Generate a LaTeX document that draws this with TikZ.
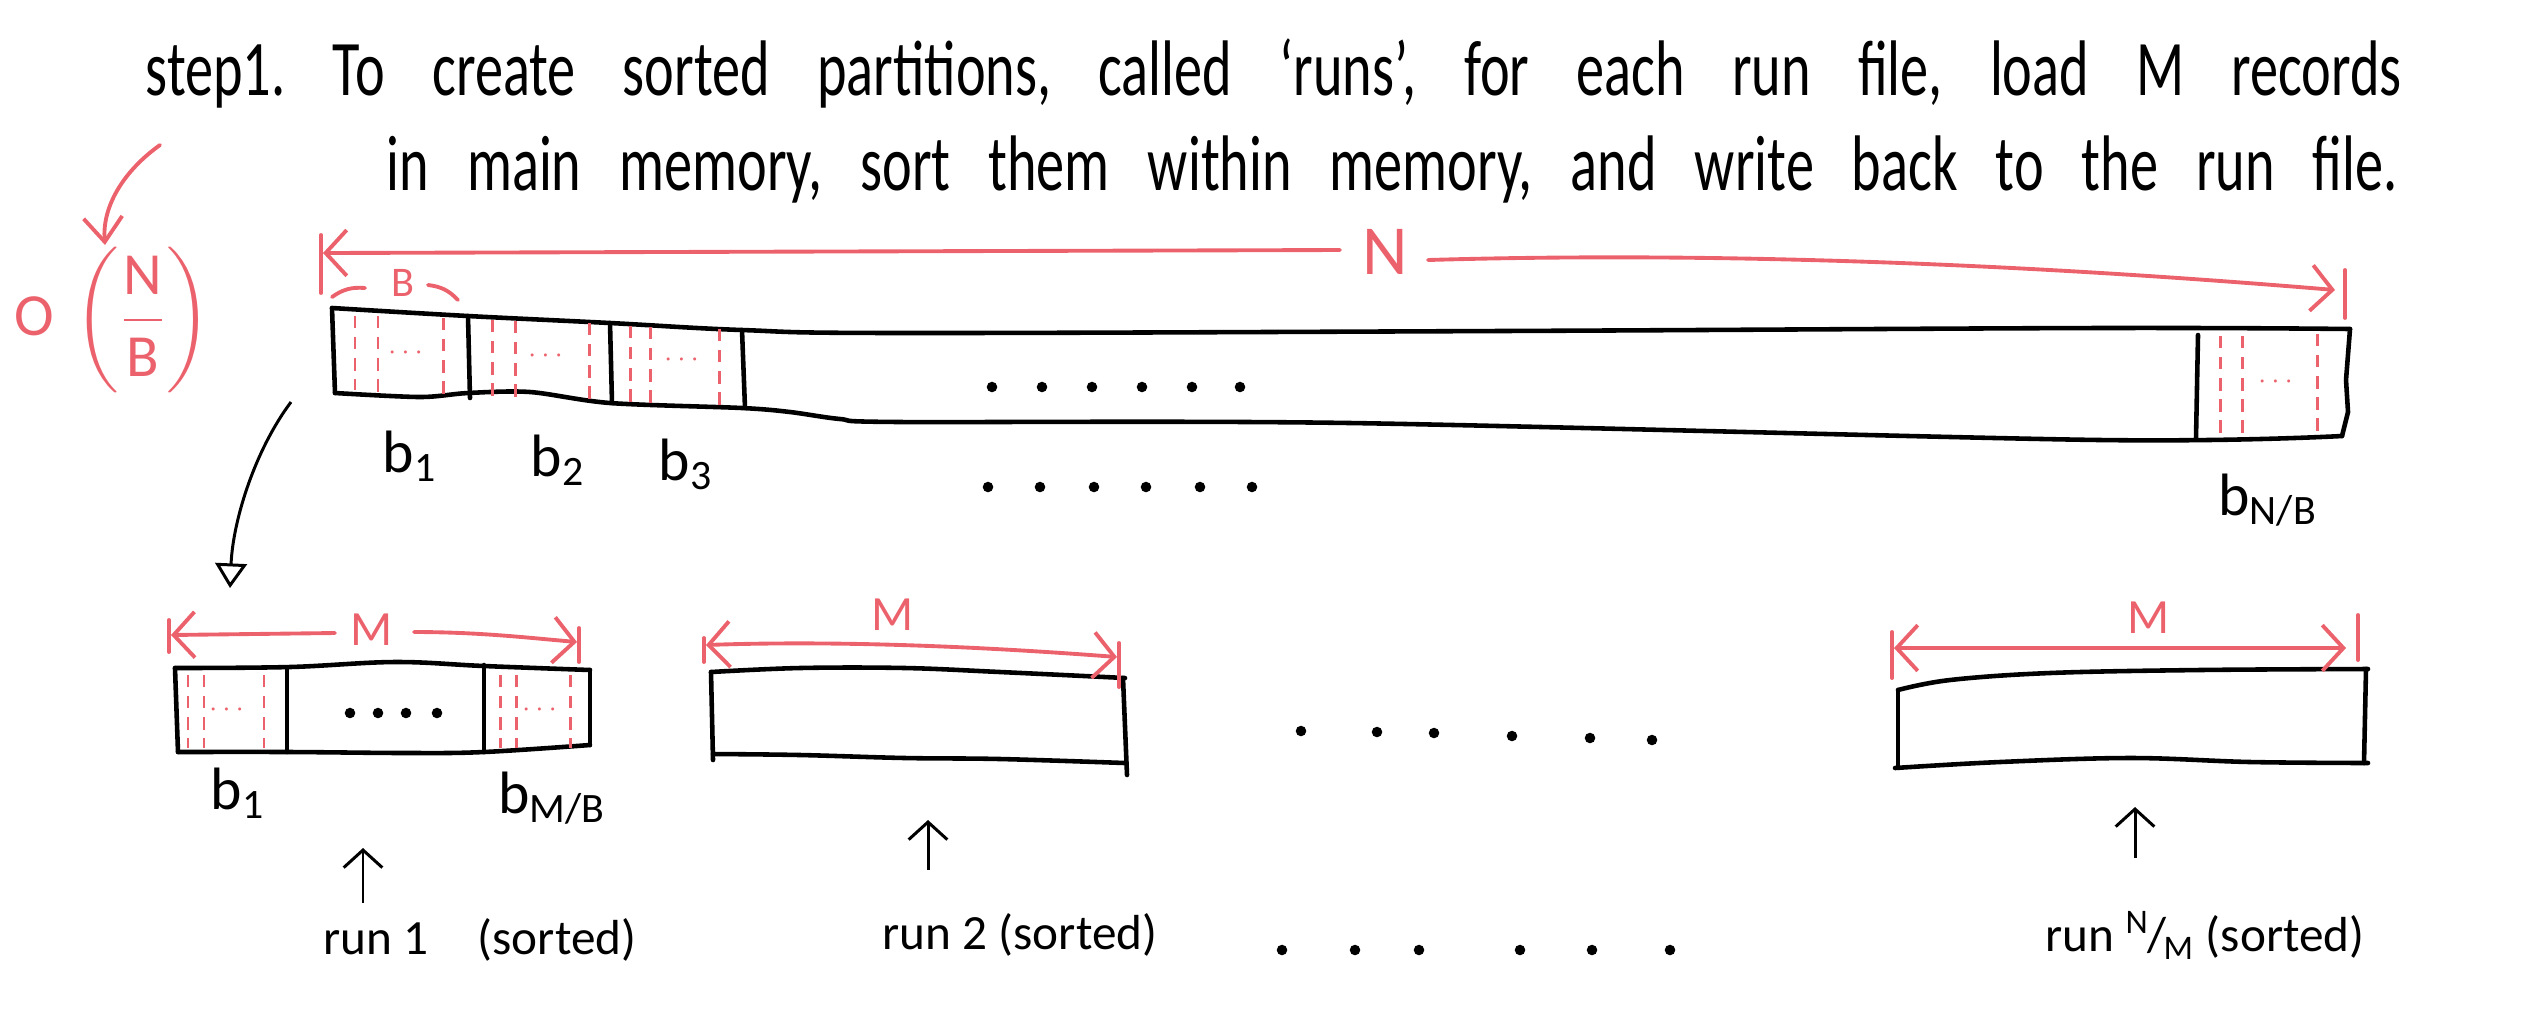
\documentclass[tikz,border=0pt]{standalone}
\usepackage{amsmath}
\usepackage{fontspec}
\setmainfont{Carlito}
\usetikzlibrary{arrows.meta}

\definecolor{penred}{RGB}{236,98,108}

\tikzset{
  barb/.tip={Straight Barb[length=6pt,width=13pt]},
  boxline/.style={line width=1.3pt, line cap=round, line join=round},
  redline/.style={penred, line width=1.1pt, line cap=round},
  reddash/.style={penred, line width=0.85pt, dash pattern=on 3.5pt off 2.5pt},
  pointer/.style={line width=0.85pt, -{Straight Barb[length=5pt,width=11pt]}},
  words/.style={anchor=base west, inner sep=0pt, yscale=1.4, transform shape,
    font=\fontsize{16}{18}\selectfont\frenchspacing},
  tag/.style={font=\fontsize{17}{20}\selectfont, inner sep=1pt},
  redtag/.style={text=penred, inner sep=1pt},
  runtag/.style={font=\fontsize{14}{17}\selectfont, inner sep=1pt},
}

\begin{document}
\begin{tikzpicture}[x=0.01cm, y=-0.01cm]
  \useasboundingbox (0,0) rectangle (2530,1014);

  % heading
  \node[words] (line1) at (145,95) {\makebox[22.55cm][s]{step1. To create sorted partitions, called `runs', for each run file, load M records}};
  \node[words] (line2) at (386,190) {\makebox[20.1cm][s]{in main memory, sort them within memory, and write back to the run file.}};

  % cost of the pass
  \node[redtag, font=\fontsize{17}{20}\selectfont] (cost) at (113,320) {$\text{O}\,\left(\dfrac{\text{N}}{\text{B}}\right)$};
  \coordinate (note) at (160,145);
  \draw[redline, -{Straight Barb[length=7pt,width=11pt]}] (note) .. controls (125,170) and (102,205) .. (105,245);

  % N span over the input file
  \draw[redline] (321,235) -- (321,293);
  \draw[redline] (2345,270) -- (2345,318);
  \draw[redline, {barb}-] (323,253) -- (1340,250);
  \draw[redline, -{barb}] (1428,260) .. controls (1700,252) and (2000,262) .. (2335,290);
  \node[redtag, font=\fontsize{20}{24}\selectfont] (N) at (1385,252) {N};
  \node[redtag, font=\fontsize{12}{14}\selectfont] (B) at (403,283) {B};
  \draw[redline] (332,297) to[bend left=20] (365,288);
  \draw[redline] (428,285) to[bend left=20] (458,300);

  % input file
  \draw[boxline] plot[smooth, tension=0.6] coordinates {(332,308) (468,316) (610,323) (742,330) (900,333) (1500,331) (2100,328) (2350,329)};
  \draw[boxline] plot[smooth, tension=0.5] coordinates {(335,393) (420,397) (468,393) (530,392) (610,403) (742,408) (790,412) (840,419) (900,422) (1350,423) (2100,440) (2342,436)};
  \draw[boxline] (332,308) -- (335,393);
  \draw[boxline] (2350,329) -- (2346,380) -- (2348,412) -- (2342,436);
  \draw[boxline] (468,316) -- (470,398);
  \draw[boxline] (610,323) -- (612,403);
  \draw[boxline] (742,330) -- (745,408);
  \draw[boxline] (2198,335) -- (2196,438);
  \foreach \x/\t/\b in {355/316/390, 378/316/392, 443/318/394, 492/320/396, 515/321/398, 589/323/400,
                        630/326/404, 650/327/405, 719/329/406, 2220/336/436, 2242/336/436, 2317/334/436}
    \draw[reddash] (\x,\t) -- (\x,\b);
  \foreach \x/\y in {408/353, 548/356, 684/360, 2278/382}
    \node[redtag, font=\footnotesize] at (\x,\y) {$\cdots$};
  \foreach \x in {992,1042,1092,1142,1192,1240}
    \fill (\x,387) circle (1.5pt);
  \foreach \x in {988,1040,1094,1146,1200,1252}
    \fill (\x,487) circle (1.5pt);

  \node[tag] (b1) at (410,456) {b\textsubscript{1}};
  \node[tag] (b2) at (558,460) {b\textsubscript{2}};
  \node[tag] (b3) at (686,464) {b\textsubscript{3}};
  \node[tag] (bN) at (2268,500) {b\textsubscript{N/B}};

  % into memory
  \coordinate (fileend) at (291,402);
  \coordinate (runend) at (230,588);
  \draw[line width=0.85pt, -{Triangle[open,length=7pt,width=9pt]}] (fileend) .. controls (255,450) and (233,520) .. (runend);

  % run 1
  \draw[boxline] plot[smooth, tension=0.6] coordinates {(175,668) (290,667) (395,662) (484,666) (590,670)};
  \draw[boxline] plot[smooth, tension=0.6] coordinates {(178,752) (290,752) (408,753) (484,752) (590,745)};
  \draw[boxline] (175,668) -- (178,752);
  \draw[boxline] (590,670) -- (590,745);
  \draw[boxline] (287,668) -- (287,752);
  \draw[boxline] (484,665) -- (484,752);
  \foreach \x in {188,204,264,500,516,570}
    \draw[reddash] (\x,675) -- (\x,748);
  \foreach \x in {229,542}
    \node[redtag, font=\footnotesize] at (\x,710) {$\cdots$};
  \foreach \x in {350,378,406,437}
    \fill (\x,713) circle (1.5pt);
  \draw[redline] (169,620) -- (169,652);
  \draw[redline] (579,628) -- (579,662);
  \draw[redline, {barb}-] (171,635) -- (335,633);
  \draw[redline, -{barb}] (414,632) .. controls (480,632) and (530,638) .. (577,642);
  \node[redtag, font=\fontsize{14}{17}\selectfont] (M1) at (372,630) {M};
  \node[tag] (c1) at (238,793) {b\textsubscript{1}};
  \node[tag] (cM) at (552,798) {b\textsubscript{M/B}};
  \coordinate (up1) at (363,903);
  \draw[pointer] (up1) -- ++(0,-55);
  \node[runtag] (run1) at (480,940) {run 1\quad (sorted)};

  % run 2
  \draw[boxline] plot[smooth, tension=0.6] coordinates {(711,672) (800,668) (905,668) (1000,672) (1125,678)};
  \draw[boxline] plot[smooth, tension=0.6] coordinates {(713,754) (800,755) (905,758) (1000,759) (1125,763)};
  \draw[boxline] (711,672) -- (713,760);
  \draw[boxline] (1123,678) -- (1127,775);
  \draw[redline] (704,638) -- (704,662);
  \draw[redline] (1119,643) -- (1119,687);
  \draw[redline, {barb}-{barb}] (706,645) .. controls (850,640) and (1000,648) .. (1117,657);
  \node[redtag, font=\fontsize{14}{17}\selectfont] (M2) at (893,615) {M};
  \coordinate (up2) at (928,870);
  \draw[pointer] (up2) -- ++(0,-50);
  \node[runtag] (run2) at (1020,935) {run 2 (sorted)};

  % runs in between
  \foreach \x/\y in {1301/731, 1377/732, 1434/733, 1512/736, 1590/738, 1652/740}
    \fill (\x,\y) circle (1.5pt);
  \foreach \x in {1282,1355,1419,1520,1592,1670}
    \fill (\x,950) circle (1.5pt);

  % run N/M
  \draw[boxline] plot[smooth, tension=0.6] coordinates {(1898,690) (1950,680) (2050,673) (2200,670) (2368,669)};
  \draw[boxline] plot[smooth, tension=0.6] coordinates {(1895,768) (2000,762) (2131,758) (2250,762) (2368,763)};
  \draw[boxline] (1898,690) -- (1898,765);
  \draw[boxline] (2366,669) -- (2364,763);
  \draw[redline] (1892,632) -- (1892,678);
  \draw[redline] (2358,615) -- (2358,660);
  \draw[redline, {barb}-{barb}] (1894,648) -- (2346,648);
  \node[redtag, font=\fontsize{14}{17}\selectfont] (M3) at (2149,618) {M};
  \coordinate (up3) at (2135,858);
  \draw[pointer] (up3) -- ++(0,-51);
  \node[runtag] (runN) at (2205,935) {run \textsuperscript{N}\kern-.05em/\kern-.05em\textsubscript{M} (sorted)};
\end{tikzpicture}
\end{document}
